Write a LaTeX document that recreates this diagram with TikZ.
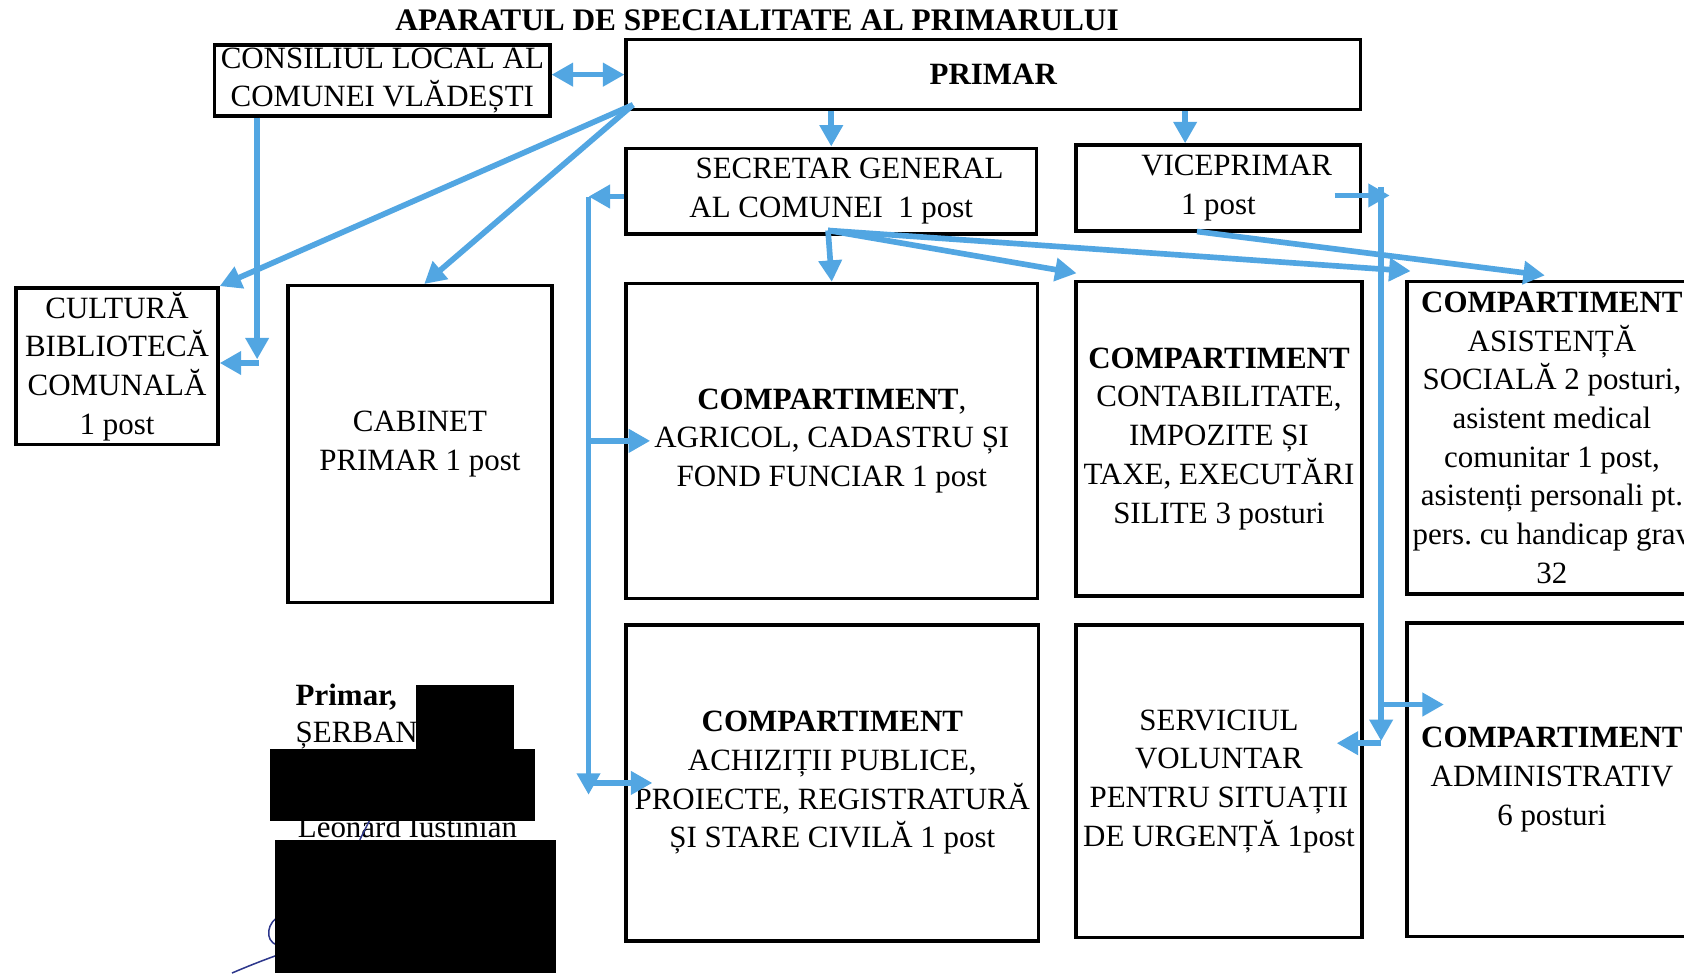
\documentclass[tikz,border=0pt]{standalone}
\usepackage{fontspec}
\setmainfont{Liberation Serif}
\usetikzlibrary{arrows.meta,calc}
\definecolor{arrblue}{RGB}{82,166,226}
\definecolor{penblue}{RGB}{45,55,140}
\newcommand{\orgbox}[6]{\node[box, minimum width={(#4-#2)*0.02cm}, minimum height={(#5-#3)*0.02cm}] (#1) at ({(#2+#4)/2},{(#3+#5)/2}) {#6};}
\begin{document}
\begin{tikzpicture}[x=0.02cm,y=-0.02cm,
  box/.style={draw=black, line width=1.8pt, align=center, inner sep=0pt, font=\fontsize{16.4}{20.5}\selectfont},
  lbl/.style={inner sep=0pt, font=\fontsize{16.4}{20.5}\selectfont},
  arr/.style={draw=arrblue, line width=3pt, -{Triangle[length=0.4cm,width=0.42cm]}},
  darr/.style={draw=arrblue, line width=3pt, {Triangle[length=0.4cm,width=0.42cm]}-{Triangle[length=0.4cm,width=0.42cm]}},
  redact/.style={fill=black, draw=none},
  pen/.style={draw=penblue, line width=0.8pt}
]
\useasboundingbox (0,0) rectangle (1568,906);
\fill[white] (0,0) rectangle (1568,906);
\clip (0,0) rectangle (1568,906);

% title
\node[lbl, font=\fontsize{16.6}{20.5}\selectfont\bfseries] (title) at (705,19) {APARATUL DE SPECIALITATE AL PRIMARULUI};

% boxes
\orgbox{cons}{200}{42}{512}{108}{CONSILIUL LOCAL AL\\COMUNEI VLĂDEȘTI}
\orgbox{primar}{583}{37}{1267}{102}{\textbf{PRIMAR}}
\orgbox{secr}{583}{138}{965}{218}{\hspace*{0.68cm}SECRETAR GENERAL\\AL COMUNEI\ \ 1 post}
\orgbox{vice}{1002}{135}{1267}{215}{\hspace*{0.68cm}VICEPRIMAR\\1 post}
\orgbox{cult}{15}{268}{203}{414}{CULTURĂ\\BIBLIOTECĂ\\COMUNALĂ\\1 post}
\orgbox{cab}{268}{266}{514}{561}{CABINET\\PRIMAR 1 post}
\orgbox{agr}{583}{264}{966}{557}{\textbf{COMPARTIMENT},\\AGRICOL, CADASTRU ȘI\\FOND FUNCIAR 1 post}
\orgbox{cont}{1002}{262}{1268}{555}{\textbf{COMPARTIMENT}\\CONTABILITATE,\\IMPOZITE ȘI\\TAXE, EXECUTĂRI\\SILITE 3 posturi}
\orgbox{asist}{1310}{262}{1580}{553}{\textbf{COMPARTIMENT}\\ASISTENȚĂ\\SOCIALĂ 2 posturi,\\asistent medical\\comunitar 1 post,\\asistenți personali pt.\\pers.\ cu handicap grav\\32}
\orgbox{achiz}{583}{582}{967}{876}{\textbf{COMPARTIMENT}\\ACHIZIȚII PUBLICE,\\PROIECTE, REGISTRATURĂ\\ȘI STARE CIVILĂ 1 post}
\orgbox{serv}{1002}{582}{1268}{873}{SERVICIUL\\VOLUNTAR\\PENTRU SITUAȚII\\DE URGENȚĂ 1post}
\orgbox{admin}{1310}{580}{1580}{872}{\textbf{COMPARTIMENT}\\ADMINISTRATIV\\6 posturi}

% helper coordinates
\coordinate (po) at ($(primar.south west)+(8,-6)$);
\coordinate (pv) at ($(vice.north)+(-31,0)$);
\coordinate (cx) at ($(cons.south west)+(41,0)$);
\coordinate (cb) at (241,338);
\coordinate (sb) at (548,183);
\coordinate (sbend) at (548,740);
\coordinate (so) at ($(secr.south)+(-3,-5)$);
\coordinate (vb) at (1286,182);
\coordinate (vtop) at (1286,174);
\coordinate (vbend) at (1286,690);
\coordinate (va) at (1286,656);
\coordinate (vl) at (1286,692);

% connectors
\draw[darr] (cons.east |- primar.west) -- (primar.west);
\draw[arr] (secr.north |- primar.south) -- (secr.north);
\draw[arr] (pv |- primar.south) -- (pv);
\draw[arr] (po) -- (cult.north east);
\draw[arr] (po) -- ($(cab.north)+(4,0)$);
\draw[arr] (cx) -- ($(cx)+(0,225)$);
\draw[arr] (cb) -- (cb -| cult.east);

\draw[arr] (secr.west |- sb) -- (sb);
\draw[arr] (sb) -- (sbend);
\draw[arr] (sb |- agr.west) -- ($(agr.west)+(24,0)$);
\draw[arr] (sb |- achiz.west) -- ($(achiz.west)+(26,0)$);

\draw[arr] (so) -- (agr.north);
\draw[arr] (so) -- ($(cont.north west)+(2,-6)$);
\draw[arr] (so) -- ($(asist.north west)+(5,-8)$);
\draw[arr] ($(vice.south)+(-20,-1)$) -- ($(asist.north west)+(130,-4)$);

\draw[arr] ($(vice.east)+(-26,7)$) -- ($(vb)+(8,0)$);
\draw[arr] (vtop) -- (vbend);
\draw[arr] (va) -- ($(va -| admin.west)+(36,0)$);
\draw[arr] (vl) -- ($(vl -| serv.east)+(-25,0)$);

% signature block
\node[lbl, anchor=base west, font=\fontsize{16.4}{20.5}\selectfont\bfseries] (sigt) at (275,657) {Primar,};
\node[lbl, anchor=base west] (sign) at (275,691) {ȘERBAN};
\node[lbl, anchor=base west] (sigf) at (277,780) {Leonard Iustinian};
\draw[pen] (262,852) .. controls (248,858) and (246,876) .. (258,880);
\draw[pen] (262,888) .. controls (245,894) and (230,900) .. (216,906);
\draw[pen] (335,782) -- (345,762);
\fill[redact] (387,638) rectangle (479,697);
\fill[redact] (251,697) rectangle (498,764);
\fill[redact] (256,782) rectangle (518,906);
\end{tikzpicture}
\end{document}
